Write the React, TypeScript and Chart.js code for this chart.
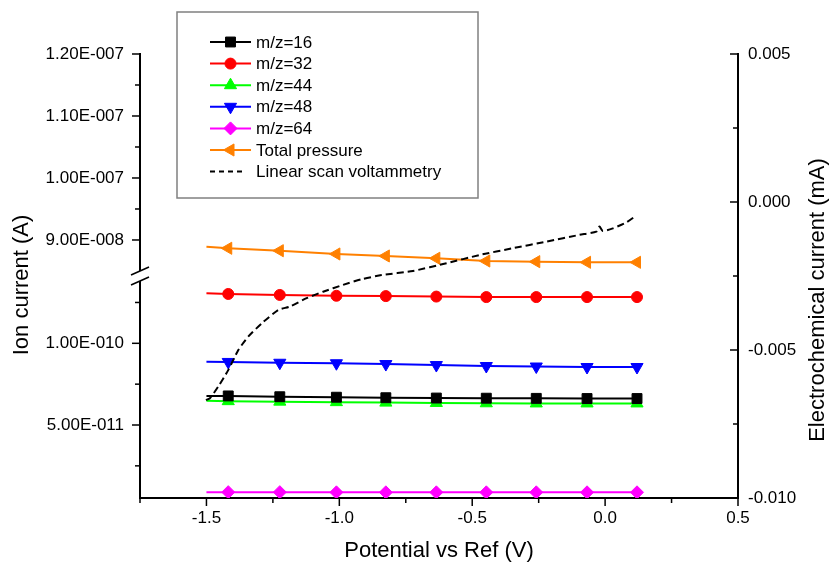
import React, { useEffect, useRef } from 'react';
import { Chart, registerables } from 'chart.js';
import { drawPoint } from 'chart.js/helpers';

Chart.register(...registerables);

// ---------- data ----------
const potential = [-1.5, -1.418, -1.224, -1.011, -0.825, -0.635, -0.447, -0.259, -0.068, 0.12];
const mz16 = [6.78e-11, 6.78e-11, 6.73e-11, 6.70e-11, 6.67e-11, 6.65e-11, 6.64e-11, 6.63e-11, 6.62e-11, 6.62e-11];
const mz32 = [1.306e-10, 1.302e-10, 1.296e-10, 1.291e-10, 1.289e-10, 1.286e-10, 1.283e-10, 1.283e-10, 1.283e-10, 1.283e-10];
const mz44 = [6.49e-11, 6.46e-11, 6.43e-11, 6.40e-11, 6.37e-11, 6.35e-11, 6.33e-11, 6.32e-11, 6.32e-11, 6.32e-11];
const mz48 = [8.87e-11, 8.86e-11, 8.81e-11, 8.78e-11, 8.73e-11, 8.67e-11, 8.61e-11, 8.58e-11, 8.55e-11, 8.55e-11];
const mz64 = [8.9e-12, 8.9e-12, 8.9e-12, 8.8e-12, 8.8e-12, 8.8e-12, 8.8e-12, 8.8e-12, 8.8e-12, 8.8e-12];
const totalPressure = [8.892e-8, 8.866e-8, 8.827e-8, 8.774e-8, 8.742e-8, 8.705e-8, 8.661e-8, 8.65e-8, 8.64e-8, 8.64e-8];

const lsvPotential = [-1.502, -1.487, -1.456, -1.418, -1.38, -1.343, -1.292, -1.23, -1.186, -1.123, -1.061, -0.986, -0.917, -0.841, -0.723, -0.597, -0.472, -0.347, -0.221, -0.096, -0.033, -0.021, -0.009, 0.029, 0.08, 0.117];
const lsvCurrent = [-0.00669, -0.00663, -0.00624, -0.00568, -0.005, -0.00455, -0.0041, -0.00365, -0.00353, -0.00325, -0.00303, -0.0028, -0.00261, -0.00247, -0.00233, -0.00207, -0.00179, -0.00156, -0.00134, -0.00111, -0.001, -0.00083, -0.00098, -0.00089, -0.00069, -0.00046];

// ---------- axes ----------
const xRange = [-1.75, 0.5];
const xMajorTicks = [-1.5, -1.0, -0.5, 0.0, 0.5];
const xMinorTicks = [-1.75, -1.25, -0.75, -0.25, 0.25];
const yHighRange = [8.419e-8, 1.2e-7];
const yHighMajorTicks = [9e-8, 1e-7, 1.1e-7, 1.2e-7];
const yHighMinorTicks = [9.5e-8, 1.05e-7, 1.15e-7];
const yLowRange = [5.32e-12, 1.412e-10];
const yLowMajorTicks = [5e-11, 1e-10];
const yLowMinorTicks = [2.5e-11, 7.5e-11, 1.25e-10];
const yRightRange = [-0.01, 0.005];
const yRightMajorTicks = [-0.01, -0.005, 0, 0.005];
const yRightMinorTicks = [-0.0075, -0.0025, 0.0025];

const xTitle = 'Potential vs Ref (V)';
const yLeftTitle = 'Ion current (A)';
const yRightTitle = 'Electrochemical current (mA)';

const FONT = '"Liberation Sans", Arial, sans-serif';

function fmtE(v: number): string {
  const e = Math.floor(Math.log10(Math.abs(v)) + 1e-9);
  const m = v / Math.pow(10, e);
  return m.toFixed(2) + 'E' + (e < 0 ? '-' : '+') + String(Math.abs(e)).padStart(3, '0');
}

const seriesDefs = [
  { label: 'm/z=16', values: mz16, color: '#000000', style: 'rect', rot: 0, r: 7, axis: 'yLow' },
  { label: 'm/z=32', values: mz32, color: '#ff0000', style: 'circle', rot: 0, r: 5.5, axis: 'yLow' },
  { label: 'm/z=44', values: mz44, color: '#00ff00', style: 'triangle', rot: 0, r: 7, axis: 'yLow' },
  { label: 'm/z=48', values: mz48, color: '#0000ff', style: 'triangle', rot: 180, r: 7, axis: 'yLow' },
  { label: 'm/z=64', values: mz64, color: '#ff00ff', style: 'rectRot', rot: 0, r: 6.5, axis: 'yLow' },
  { label: 'Total pressure', values: totalPressure, color: '#ff8000', style: 'triangle', rot: 270, r: 7, axis: 'yHigh' },
];

const decorPlugin = {
  id: 'decor',
  afterDraw(chart: any) {
    const { ctx, chartArea, scales } = chart;
    const { left, right, bottom } = chartArea;
    ctx.save();
    ctx.strokeStyle = '#000';
    ctx.lineWidth = 1.5;
    ctx.setLineDash([]);
    const seg = (x1: number, y1: number, x2: number, y2: number) => {
      ctx.beginPath();
      ctx.moveTo(x1, y1);
      ctx.lineTo(x2, y2);
      ctx.stroke();
    };
    xMajorTicks.forEach((v) => { const p = scales.x.getPixelForValue(v); seg(p, bottom, p, bottom + 8); });
    xMinorTicks.forEach((v) => { const p = scales.x.getPixelForValue(v); seg(p, bottom, p, bottom + 5); });
    yHighMajorTicks.forEach((v) => { const p = scales.yHigh.getPixelForValue(v); seg(left - 8, p, left, p); });
    yHighMinorTicks.forEach((v) => { const p = scales.yHigh.getPixelForValue(v); seg(left - 5, p, left, p); });
    yLowMajorTicks.forEach((v) => { const p = scales.yLow.getPixelForValue(v); seg(left - 8, p, left, p); });
    yLowMinorTicks.forEach((v) => { const p = scales.yLow.getPixelForValue(v); seg(left - 5, p, left, p); });
    yRightMajorTicks.forEach((v) => { const p = scales.yR.getPixelForValue(v); seg(right - 8, p, right, p); });
    yRightMinorTicks.forEach((v) => { const p = scales.yR.getPixelForValue(v); seg(right - 5, p, right, p); });

    // axis break
    const b = scales.yHigh.bottom;
    ctx.fillStyle = '#fff';
    ctx.fillRect(left - 3, b - 5, 6, 10);
    ctx.lineWidth = 1.5;
    seg(left - 9, b - 5 + 4, left + 9, b - 5 - 4);
    seg(left - 9, b + 5 + 4, left + 9, b + 5 - 4);

    // titles
    ctx.fillStyle = '#000';
    ctx.font = '22px ' + FONT;
    ctx.textAlign = 'center';
    ctx.textBaseline = 'middle';
    ctx.fillText(xTitle, (left + right) / 2, 551);
    ctx.save();
    ctx.translate(22, 285);
    ctx.rotate(-Math.PI / 2);
    ctx.fillText(yLeftTitle, 0, 0);
    ctx.restore();
    ctx.save();
    ctx.translate(818, 300);
    ctx.rotate(-Math.PI / 2);
    ctx.fillText(yRightTitle, 0, 0);
    ctx.restore();

    // legend
    const lx = 177, ly = 12, lw = 301, lh = 186;
    ctx.fillStyle = '#fff';
    ctx.fillRect(lx, ly, lw, lh);
    ctx.strokeStyle = '#808080';
    ctx.lineWidth = 1.5;
    ctx.strokeRect(lx, ly, lw, lh);
    ctx.font = '17px ' + FONT;
    ctx.textAlign = 'left';
    ctx.textBaseline = 'middle';
    chart.data.datasets.forEach((ds: any, i: number) => {
      const y = 42 + i * 21.6;
      ctx.strokeStyle = ds.borderColor;
      ctx.lineWidth = 2;
      if (ds.borderDash && ds.borderDash.length) {
        ctx.setLineDash([5, 4]);
        seg(210, y, 246, y);
      } else {
        ctx.setLineDash([]);
        seg(210, y, 251, y);
      }
      ctx.setLineDash([]);
      if (ds.markerStyle) {
        ctx.fillStyle = ds.borderColor;
        ctx.lineWidth = 1;
        drawPoint(ctx, { pointStyle: ds.markerStyle, rotation: ds.markerRot, radius: ds.markerR, borderWidth: 1 }, 230.5, y);
      }
      ctx.fillStyle = '#000';
      ctx.fillText(ds.label, 256, y + 1);
    });
    ctx.restore();
  },
};

export default function App() {
  const ref = useRef<HTMLCanvasElement>(null);
  useEffect(() => {
    if (!ref.current) return;
    Chart.defaults.font.family = FONT;
    Chart.defaults.color = '#000';
    const datasets: any[] = seriesDefs.map((s) => ({
      label: s.label,
      data: potential.map((x, i) => ({ x, y: s.values[i] })),
      yAxisID: s.axis,
      borderColor: s.color,
      backgroundColor: s.color,
      borderWidth: 2,
      pointStyle: s.style,
      pointRotation: s.rot,
      pointRadius: (c: any) => (c.dataIndex === 0 ? 0 : s.r),
      pointBorderWidth: 1,
      pointBackgroundColor: s.color,
      pointBorderColor: s.color,
      tension: 0,
      markerStyle: s.style,
      markerRot: s.rot,
      markerR: s.r,
    }));
    datasets.push({
      label: 'Linear scan voltammetry',
      data: lsvPotential.map((x, i) => ({ x, y: lsvCurrent[i] })),
      yAxisID: 'yR',
      borderColor: '#000000',
      backgroundColor: '#000000',
      borderWidth: 2,
      borderDash: [7, 4],
      pointRadius: 0,
      tension: 0.2,
      order: -1,
    });

    const tickFont = { size: 17, family: FONT };
    const chart = new Chart(ref.current, {
      type: 'line',
      data: { datasets },
      plugins: [decorPlugin],
      options: {
        animation: false,
        responsive: false,
        maintainAspectRatio: false,
        layout: { padding: { top: 54, left: 0, right: 0, bottom: 0 } },
        plugins: { legend: { display: false }, tooltip: { enabled: false } },
        scales: {
          x: {
            type: 'linear',
            position: 'bottom',
            min: xRange[0],
            max: xRange[1],
            afterBuildTicks: (s: any) => { s.ticks = xMajorTicks.map((v) => ({ value: v })); },
            afterFit: (s: any) => { s.height = 67; },
            ticks: { callback: (v: any) => Number(v).toFixed(1), padding: 10, color: '#000', font: tickFont, autoSkip: false, maxRotation: 0 },
            grid: { drawOnChartArea: false, drawTicks: false },
            border: { color: '#000', width: 2 },
          },
          yLow: {
            type: 'linear',
            position: 'left',
            stack: 'ion',
            stackWeight: 1,
            min: yLowRange[0],
            max: yLowRange[1],
            afterBuildTicks: (s: any) => { s.ticks = yLowMajorTicks.map((v) => ({ value: v })); },
            afterFit: (s: any) => { s.width = 140; },
            ticks: { callback: (v: any) => fmtE(Number(v)), padding: 16, color: '#000', font: tickFont, autoSkip: false },
            grid: { drawOnChartArea: false, drawTicks: false },
            border: { color: '#000', width: 2 },
          },
          yHigh: {
            type: 'linear',
            position: 'left',
            stack: 'ion',
            stackWeight: 1,
            min: yHighRange[0],
            max: yHighRange[1],
            afterBuildTicks: (s: any) => { s.ticks = yHighMajorTicks.map((v) => ({ value: v })); },
            afterFit: (s: any) => { s.width = 140; },
            ticks: { callback: (v: any) => fmtE(Number(v)), padding: 16, color: '#000', font: tickFont, autoSkip: false },
            grid: { drawOnChartArea: false, drawTicks: false },
            border: { color: '#000', width: 2 },
          },
          yR: {
            type: 'linear',
            position: 'right',
            min: yRightRange[0],
            max: yRightRange[1],
            afterBuildTicks: (s: any) => { s.ticks = yRightMajorTicks.map((v) => ({ value: v })); },
            afterFit: (s: any) => { s.width = 92; },
            ticks: { callback: (v: any) => Number(v).toFixed(3), padding: 10, color: '#000', font: tickFont, autoSkip: false },
            grid: { drawOnChartArea: false, drawTicks: false },
            border: { color: '#000', width: 2 },
          },
        },
      } as any,
    });
    return () => chart.destroy();
  }, []);
  return (
    <div style={{ position: 'absolute', left: 0, top: 0, width: 830, height: 565, background: '#fff' }}>
      <canvas ref={ref} width={830} height={565} style={{ display: 'block' }} />
    </div>
  );
}
